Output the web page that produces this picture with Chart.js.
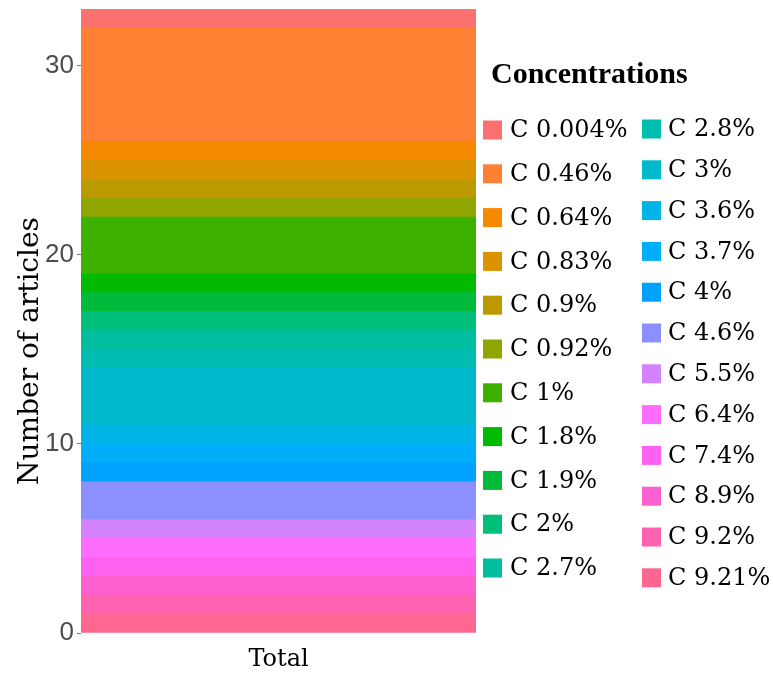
<!DOCTYPE html>
<html>
<head>
<meta charset="utf-8">
<script src="https://cdn.jsdelivr.net/npm/chart.js@4"></script>
<style>
  body { margin: 0; background: #fff; }
  #wrap { width: 773px; height: 676px; }
</style>
</head>
<body>
<div id="wrap"><canvas id="chartCanvas" width="773" height="676"></canvas></div>
<script>
// Data (legend order, top of the stack first)
var categories = ['Total'];
var concentrations = [
  'C 0.004%', 'C 0.46%', 'C 0.64%', 'C 0.83%', 'C 0.9%', 'C 0.92%',
  'C 1%', 'C 1.8%', 'C 1.9%', 'C 2%', 'C 2.7%',
  'C 2.8%', 'C 3%', 'C 3.6%', 'C 3.7%', 'C 4%', 'C 4.6%',
  'C 5.5%', 'C 6.4%', 'C 7.4%', 'C 8.9%', 'C 9.2%', 'C 9.21%'
];
var articleCounts = [
  1, 6, 1, 1, 1, 1,
  3, 1, 1, 1, 1,
  1, 3, 1, 1, 1, 2,
  1, 1, 1, 1, 1, 1
];
var yTicks = [0, 10, 20, 30];
var yMax = 33;
var yTitle = 'Number of articles';
var legendTitle = 'Concentrations';

// fill colours, same order as concentrations
var colors = [
  '#FB7170', '#FE8033', '#F58A00', '#DC9300', '#BB9A00', '#90A500',
  '#3EB000', '#00BA00', '#00BA3A', '#00BF7A', '#00BE9E',
  '#00BDB2', '#00BACB', '#00B5E6', '#00AEFA', '#00A2FF', '#8B8FFF',
  '#D582FF', '#FF6DFF', '#FF62EE', '#FF60CF', '#FF62AE', '#FF6690'
];

// bottom of the stack is the last legend entry
var datasets = concentrations.map(function(label, i) {
  return {
    label: label,
    data: [articleCounts[i]],
    backgroundColor: colors[i],
    borderWidth: 0,
    barPercentage: 1,
    categoryPercentage: 1
  };
}).reverse();

var sideText = {
  id: 'sideText',
  afterDraw: function(chart) {
    var ctx = chart.ctx;
    ctx.save();

    // y axis title
    ctx.save();
    ctx.translate(31, 351);
    ctx.rotate(-Math.PI / 2);
    ctx.fillStyle = '#000';
    ctx.font = '28px "DejaVu Serif"';
    ctx.textAlign = 'center';
    ctx.textBaseline = 'middle';
    ctx.fillText(yTitle, 0, 0);
    ctx.restore();

    // legend
    ctx.fillStyle = '#000';
    ctx.font = 'bold 30px "Liberation Serif"';
    ctx.textAlign = 'left';
    ctx.textBaseline = 'middle';
    ctx.fillText(legendTitle, 491, 75);

    var cols = [
      {from: 0, to: 11, boxX: 483, textX: 510, y0: 130, step: 43.8},
      {from: 11, to: 23, boxX: 642, textX: 668, y0: 129, step: 40.8}
    ];
    ctx.font = '24px "DejaVu Serif"';
    cols.forEach(function(col) {
      for (var i = col.from; i < col.to; i++) {
        var y = col.y0 + (i - col.from) * col.step;
        ctx.fillStyle = colors[i];
        ctx.fillRect(col.boxX, y - 9.5, 19, 19);
        ctx.fillStyle = '#000';
        ctx.fillText(concentrations[i], col.textX, y + 1);
      }
    });
    ctx.restore();
  }
};

var chart = new Chart(document.getElementById('chartCanvas'), {
  type: 'bar',
  data: {labels: categories, datasets: datasets},
  plugins: [sideText],
  options: {
    responsive: false,
    animation: false,
    layout: {padding: {top: 9, right: 297, left: 0, bottom: 0}},
    plugins: {legend: {display: false}, tooltip: {enabled: false}},
    scales: {
      x: {
        stacked: true,
        grid: {display: false, drawTicks: false},
        border: {display: false},
        ticks: {color: '#000', font: {family: 'DejaVu Serif', size: 24}, padding: 12},
        afterFit: function(scale) { scale.height = 43; }
      },
      y: {
        stacked: true,
        min: 0,
        max: yMax,
        grid: {drawOnChartArea: false, tickLength: 4, color: '#777'},
        border: {display: false},
        ticks: {color: '#4d4d4d', font: {family: 'Liberation Sans', size: 26}, padding: 3},
        afterBuildTicks: function(scale) {
          scale.ticks = yTicks.map(function(v) { return {value: v}; });
        },
        afterFit: function(scale) {
          scale.width = 81;
          scale.paddingTop = 0;
          scale.paddingBottom = 0;
        }
      }
    }
  }
});
</script>
</body>
</html>
